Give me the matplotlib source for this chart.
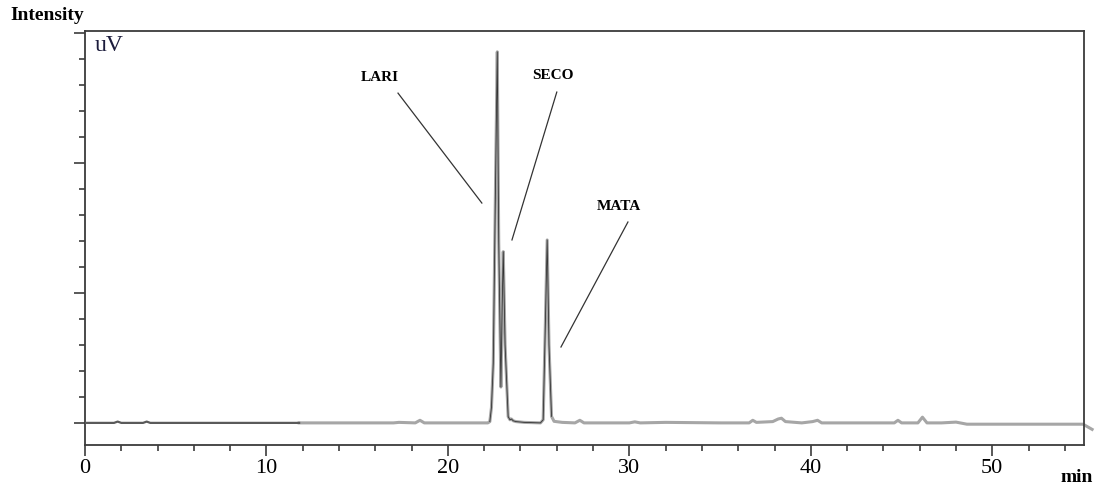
import matplotlib
matplotlib.use('Agg')
import matplotlib.pyplot as plt
from matplotlib.ticker import MultipleLocator, NullFormatter

# chromatogram vertices (time in min, intensity in 1e? uV units)
time_early = [0.0, 1.6, 1.8, 2.0, 3.2, 3.4, 3.6, 11.8]
signal_early = [0.0, 0.0, 0.05, 0.0, 0.0, 0.05, 0.0, 0.0]

time_main = [11.8, 17.0, 17.3, 18.2, 18.46, 18.7, 20.0, 22.2, 22.31, 22.4, 22.5,
             22.62, 22.72, 22.8, 22.92, 22.99, 23.05, 23.15, 23.32, 23.42, 23.5,
             23.6, 23.75, 24.2, 25.1, 25.25, 25.36, 25.47, 25.57, 25.71, 25.85,
             26.3, 27.0, 27.27, 27.5, 30.0, 30.3, 30.6, 32.0, 35.0, 36.6, 36.8,
             37.0, 37.9, 38.2, 38.38, 38.6, 39.5, 40.1, 40.37, 40.6, 44.6, 44.8,
             45.0, 45.9, 46.15, 46.4, 47.2, 48.0, 48.6, 51.5, 55.0, 55.5]
signal_main = [0.0, 0.0, 0.02, 0.0, 0.1, 0.0, 0.0, 0.0, 0.05, 0.6, 2.3,
               9.0, 14.28, 7.0, 1.38, 4.5, 6.59, 3.0, 0.24, 0.12, 0.15,
               0.08, 0.05, 0.02, 0.0, 0.12, 3.5, 7.04, 3.0, 0.25, 0.06,
               0.02, 0.0, 0.1, 0.0, 0.0, 0.04, 0.0, 0.02, 0.0, 0.0, 0.1,
               0.02, 0.05, 0.15, 0.18, 0.05, 0.0, 0.05, 0.1, 0.0, 0.0, 0.1,
               0.0, 0.0, 0.22, 0.0, 0.0, 0.03, -0.05, -0.05, -0.05, -0.25]

# annotations: label, text position, line start, line end
labels = ['LARI', 'SECO', 'MATA']
label_pos = [(16.25, 13.3), (25.8, 13.38), (29.4, 8.31)]
line_start = [(17.25, 12.69), (26.0, 12.73), (29.92, 7.73)]
line_end = [(21.87, 8.46), (23.53, 7.04), (26.23, 2.92)]

serif = 'Liberation Serif'

fig = plt.figure(figsize=(10.98, 4.86), dpi=100)
ax = fig.add_axes([0.0774, 0.0844, 0.9098, 0.8518])

ax.plot(time_main, signal_main, color='#a6a6a6', lw=2.2, clip_on=False, zorder=2)
ax.plot(time_early, signal_early, color='#5a5a5a', lw=1.6, zorder=3)
# darker core on the big peaks
ax.plot(time_main[8:30], signal_main[8:30], color='#333333', lw=0.6, zorder=3)

for lab, (tx, ty), (x0, y0), (x1, y1) in zip(labels, label_pos, line_start, line_end):
    ax.plot([x0, x1], [y0, y1], color='#333333', lw=0.9)
    ax.text(tx, ty, lab, ha='center', va='center', family=serif,
            fontweight='bold', fontsize=11)

ax.set_xlim(0, 55.05)
ax.set_ylim(-0.85, 15.08)

ax.xaxis.set_major_locator(MultipleLocator(10))
ax.xaxis.set_minor_locator(MultipleLocator(2))
ax.yaxis.set_major_locator(MultipleLocator(5))
ax.yaxis.set_minor_locator(MultipleLocator(1))
ax.yaxis.set_major_formatter(NullFormatter())

for s in ax.spines.values():
    s.set_color('#3c3c3c')
    s.set_linewidth(1.3)

ax.tick_params(which='major', length=8, width=1.2, color='#3c3c3c', direction='out')
ax.tick_params(which='minor', length=4.5, width=1.2, color='#3c3c3c', direction='out')
ax.tick_params(axis='x', labelsize=16, pad=2)
for t in ax.get_xticklabels():
    t.set_family(serif)

ax.text(0.01, 0.99, 'uV', transform=ax.transAxes, ha='left', va='top',
        family=serif, fontsize=17, color='#1c1c3c')
fig.text(10 / 1098, 1 - 16 / 486, 'Intensity', ha='left', va='center',
         family=serif, fontweight='bold', fontsize=14)
fig.text(1077 / 1098, 1 - 477 / 486, 'min', ha='center', va='center',
         family=serif, fontweight='bold', fontsize=14)

fig.savefig('out.png', dpi=100)
